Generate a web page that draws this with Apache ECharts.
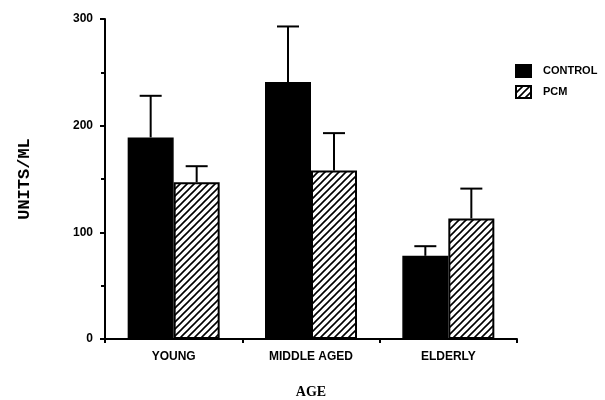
<!DOCTYPE html>
<html>
<head>
<meta charset="utf-8">
<script src="https://cdn.jsdelivr.net/npm/echarts@6/dist/echarts.min.js"></script>
<style>
  html, body { margin: 0; padding: 0; background: #fff; }
  #chart { width: 605px; height: 400px; }
</style>
</head>
<body>
<div id="chart"></div>
<script>
var ages = ['YOUNG', 'MIDDLE AGED', 'ELDERLY'];
var controlMean = [189, 241, 78];
var controlErr = [228, 293, 87];
var pcmMean = [147, 158, 113];
var pcmErr = [162, 193, 141];
var yTicks = [0, 100, 200, 300];

// hatch pattern ////
function hatch() {
    var c = document.createElement('canvas');
    c.width = 7; c.height = 7;
    var ctx = c.getContext('2d');
    ctx.fillStyle = '#fff';
    ctx.fillRect(0, 0, 7, 7);
    ctx.strokeStyle = '#000';
    ctx.lineWidth = 1.6;
    ctx.beginPath();
    ctx.moveTo(-1, 8); ctx.lineTo(8, -1);
    ctx.moveTo(-8, 8); ctx.lineTo(1, -1);
    ctx.moveTo(6, 8); ctx.lineTo(15, -1);
    ctx.stroke();
    return c;
}
var pattern = { image: hatch(), repeat: 'repeat' };

var barW = 46;

function errSeries(means, errs, shift) {
    return {
        type: 'custom',
        z: 1,
        silent: true,
        data: means.map(function (m, i) { return [i, m, errs[i]]; }),
        renderItem: function (params, api) {
            var top = api.coord([api.value(0), api.value(1)]);
            var hi = api.coord([api.value(0), api.value(2)]);
            var x = top[0] + shift;
            return {
                type: 'group',
                children: [
                    { type: 'line', shape: { x1: x, y1: top[1], x2: x, y2: hi[1] }, style: { stroke: '#000', lineWidth: 2 } },
                    { type: 'line', shape: { x1: x - 11, y1: hi[1], x2: x + 11, y2: hi[1] }, style: { stroke: '#000', lineWidth: 2 } }
                ]
            };
        }
    };
}

var myChart = echarts.init(document.getElementById('chart'));
var option = {
    animation: false,
    grid: { left: 105, right: 88, top: 19, bottom: 61, containLabel: false, outerBoundsMode: 'none' },
    legend: {
        orient: 'vertical',
        left: 515,
        top: 64,
        padding: 0,
        itemWidth: 15,
        itemHeight: 12,
        itemGap: 7,
        icon: 'rect',
        data: ['CONTROL', 'PCM'],
        textStyle: { fontFamily: 'Liberation Sans', fontWeight: 'bold', fontSize: 11, color: '#000', padding: [0, 0, 0, 7] }
    },
    xAxis: {
        type: 'category',
        data: ages,
        name: 'AGE',
        nameLocation: 'middle',
        nameGap: 46,
        nameTextStyle: { fontFamily: 'Liberation Serif', fontWeight: 'bold', fontSize: 14, color: '#000' },
        axisLine: { lineStyle: { color: '#000', width: 2 } },
        axisTick: { show: true, length: 4, lineStyle: { color: '#000', width: 2 } },
        axisLabel: { margin: 12, fontFamily: 'Liberation Sans', fontWeight: 'bold', fontSize: 12, color: '#000' }
    },
    yAxis: {
        type: 'value',
        min: 0,
        max: 300,
        interval: 100,
        name: 'UNITS/ML',
        nameLocation: 'middle',
        nameGap: 72,
        nameTextStyle: { fontFamily: 'Liberation Mono', fontWeight: 'bold', fontSize: 17, color: '#000' },
        axisLine: { show: true, lineStyle: { color: '#000', width: 2 } },
        axisTick: { show: true, length: 5, lineStyle: { color: '#000', width: 2 } },
        minorTick: { show: true, splitNumber: 2, length: 4, lineStyle: { color: '#000', width: 2 } },
        splitLine: { show: false },
        axisLabel: {
            margin: 12,
            fontFamily: 'Liberation Sans',
            fontWeight: 'bold',
            fontSize: 12,
            color: '#000',
            formatter: function (v) { return yTicks.indexOf(v) >= 0 ? String(v) : ''; }
        }
    },
    series: [
        {
            name: 'CONTROL',
            type: 'bar',
            barWidth: barW,
            barGap: 0,
            z: 2,
            itemStyle: { color: '#000', borderColor: '#000', borderWidth: 1.5 },
            data: controlMean
        },
        {
            name: 'PCM',
            type: 'bar',
            barWidth: barW,
            barGap: 0,
            z: 2,
            itemStyle: { color: pattern, borderColor: '#000', borderWidth: 2 },
            data: pcmMean
        },
        errSeries(controlMean, controlErr, -barW / 2),
        errSeries(pcmMean, pcmErr, barW / 2)
    ]
};
myChart.setOption(option, true);
</script>
</body>
</html>
